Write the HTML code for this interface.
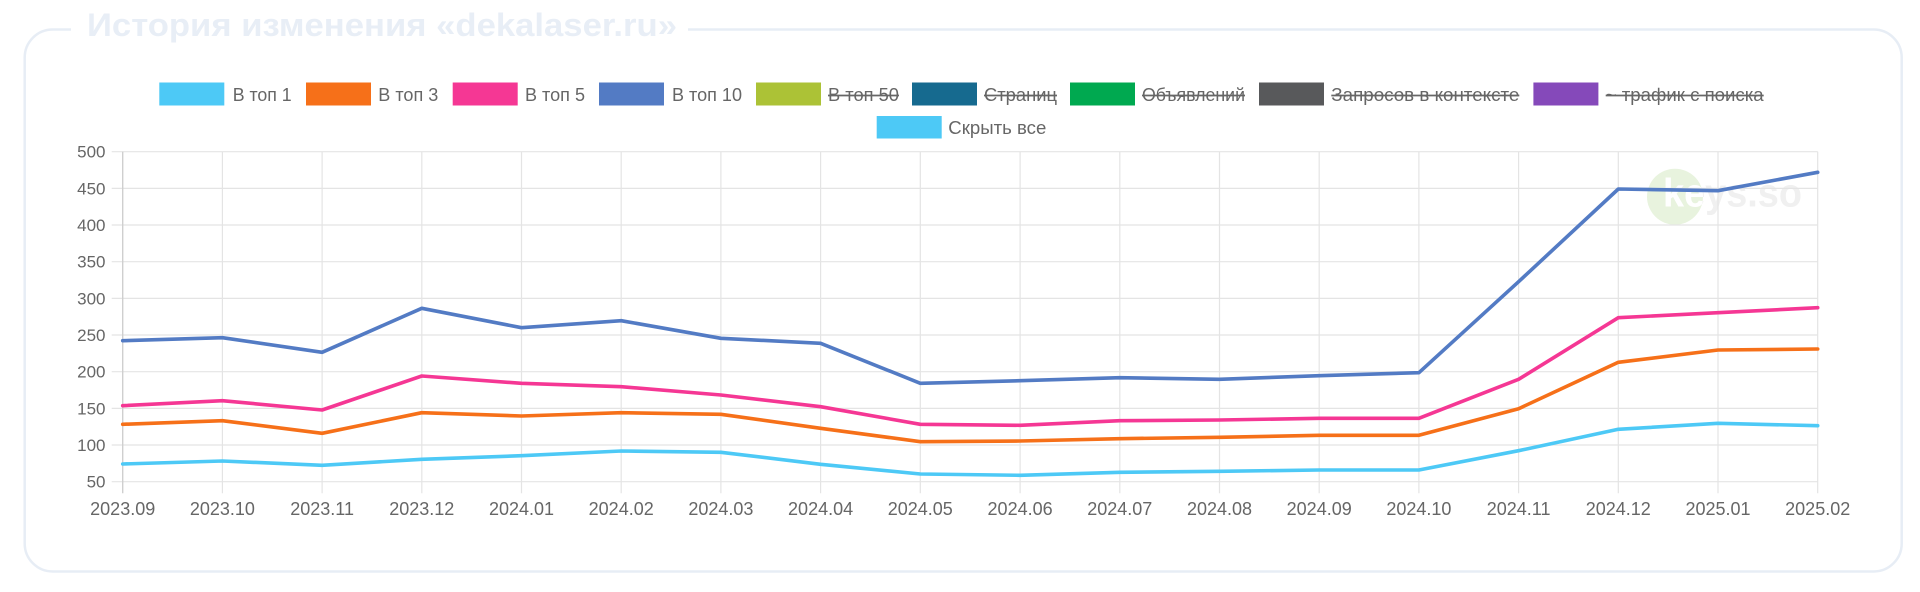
<!DOCTYPE html>
<html><head><meta charset="utf-8"><style>html,body{margin:0;padding:0;background:#fff;width:1920px;height:592px;overflow:hidden}svg{display:block}</style></head>
<body>
<svg xmlns="http://www.w3.org/2000/svg" width="1920" height="592" viewBox="0 0 1920 592" font-family="'Liberation Sans', Arial, sans-serif">
<defs><clipPath id="cc"><circle cx="1675" cy="196.7" r="28"/></clipPath></defs>
<rect x="0" y="0" width="1920" height="592" fill="#fff"/>
<!-- card -->
<rect x="24.7" y="29.5" width="1877" height="542" rx="28" ry="28" fill="#fff" stroke="#e7edf5" stroke-width="2.5"/>
<rect x="71" y="24" width="617" height="12" fill="#fff"/>
<text x="87" y="36" font-size="32" font-weight="bold" fill="#e8eef6" textLength="590" lengthAdjust="spacingAndGlyphs">История изменения «dekalaser.ru»</text>

<!-- legend -->
<g font-size="18" fill="#666">
<rect x="159.3" y="82.5" width="65" height="23" fill="#4dc9f6"/><text x="232.7" y="101" textLength="59" lengthAdjust="spacingAndGlyphs">В топ 1</text>
<rect x="306" y="82.5" width="65" height="23" fill="#f67019"/><text x="378.3" y="101" textLength="60" lengthAdjust="spacingAndGlyphs">В топ 3</text>
<rect x="452.7" y="82.5" width="65" height="23" fill="#f53794"/><text x="525" y="101" textLength="60" lengthAdjust="spacingAndGlyphs">В топ 5</text>
<rect x="599" y="82.5" width="65" height="23" fill="#537bc4"/><text x="672" y="101" textLength="70" lengthAdjust="spacingAndGlyphs">В топ 10</text>
<rect x="756" y="82.5" width="65" height="23" fill="#acc236"/><text x="828" y="101" textLength="71" lengthAdjust="spacingAndGlyphs">В топ 50</text>
<rect x="912" y="82.5" width="65" height="23" fill="#166a8f"/><text x="984" y="101" textLength="73" lengthAdjust="spacingAndGlyphs">Страниц</text>
<rect x="1070" y="82.5" width="65" height="23" fill="#00a950"/><text x="1142" y="101" textLength="103" lengthAdjust="spacingAndGlyphs">Объявлений</text>
<rect x="1259" y="82.5" width="65" height="23" fill="#58595b"/><text x="1331.3" y="101" textLength="188" lengthAdjust="spacingAndGlyphs">Запросов в контексте</text>
<rect x="1533.4" y="82.5" width="65" height="23" fill="#8549ba"/><text x="1605.7" y="101" textLength="158" lengthAdjust="spacingAndGlyphs">~ трафик с поиска</text>
<rect x="876.7" y="116" width="65" height="22.5" fill="#4dc9f6"/><text x="948.3" y="134" textLength="98" lengthAdjust="spacingAndGlyphs">Скрыть все</text>
</g>
<g stroke="#666" stroke-width="1.8">
<line x1="828" y1="95.5" x2="899" y2="95.5"/>
<line x1="984" y1="95.5" x2="1057" y2="95.5"/>
<line x1="1142" y1="95.5" x2="1245" y2="95.5"/>
<line x1="1331.3" y1="95.5" x2="1519.3" y2="95.5"/>
<line x1="1605.7" y1="95.5" x2="1763.7" y2="95.5"/>
</g>

<!-- watermark -->
<circle cx="1675" cy="196.7" r="28" fill="#e8f3de"/>
<text x="1663" y="206.7" font-size="40" font-weight="bold" fill="#f0f0f0" textLength="139" lengthAdjust="spacingAndGlyphs">keys.so</text>
<g clip-path="url(#cc)"><text x="1663" y="206.7" font-size="40" font-weight="bold" fill="#ffffff" textLength="139" lengthAdjust="spacingAndGlyphs">keys.so</text></g>

<!-- grid -->
<g stroke="#e4e4e4" stroke-width="1.2">
<line x1="111.7" y1="151.7" x2="1817.7" y2="151.7"/>
<line x1="111.7" y1="188.4" x2="1817.7" y2="188.4"/>
<line x1="111.7" y1="225" x2="1817.7" y2="225"/>
<line x1="111.7" y1="261.7" x2="1817.7" y2="261.7"/>
<line x1="111.7" y1="298.4" x2="1817.7" y2="298.4"/>
<line x1="111.7" y1="335" x2="1817.7" y2="335"/>
<line x1="111.7" y1="371.7" x2="1817.7" y2="371.7"/>
<line x1="111.7" y1="408.4" x2="1817.7" y2="408.4"/>
<line x1="111.7" y1="445" x2="1817.7" y2="445"/>
<line x1="111.7" y1="481.7" x2="1817.7" y2="481.7"/>
<line x1="222.4" y1="151.7" x2="222.4" y2="493.3"/>
<line x1="322.1" y1="151.7" x2="322.1" y2="493.3"/>
<line x1="421.8" y1="151.7" x2="421.8" y2="493.3"/>
<line x1="521.5" y1="151.7" x2="521.5" y2="493.3"/>
<line x1="621.2" y1="151.7" x2="621.2" y2="493.3"/>
<line x1="720.9" y1="151.7" x2="720.9" y2="493.3"/>
<line x1="820.6" y1="151.7" x2="820.6" y2="493.3"/>
<line x1="920.3" y1="151.7" x2="920.3" y2="493.3"/>
<line x1="1020.1" y1="151.7" x2="1020.1" y2="493.3"/>
<line x1="1119.8" y1="151.7" x2="1119.8" y2="493.3"/>
<line x1="1219.5" y1="151.7" x2="1219.5" y2="493.3"/>
<line x1="1319.2" y1="151.7" x2="1319.2" y2="493.3"/>
<line x1="1418.9" y1="151.7" x2="1418.9" y2="493.3"/>
<line x1="1518.6" y1="151.7" x2="1518.6" y2="493.3"/>
<line x1="1618.3" y1="151.7" x2="1618.3" y2="493.3"/>
<line x1="1718" y1="151.7" x2="1718" y2="493.3"/>
<line x1="1817.7" y1="151.7" x2="1817.7" y2="493.3"/>
</g>
<line x1="122.7" y1="151.7" x2="122.7" y2="493.3" stroke="#cfcfcf" stroke-width="1.4"/>

<!-- y labels -->
<g font-size="17" fill="#666" text-anchor="end">
<text x="105.5" y="157.7">500</text>
<text x="105.5" y="194.4">450</text>
<text x="105.5" y="231">400</text>
<text x="105.5" y="267.7">350</text>
<text x="105.5" y="304.4">300</text>
<text x="105.5" y="341">250</text>
<text x="105.5" y="377.7">200</text>
<text x="105.5" y="414.4">150</text>
<text x="105.5" y="451">100</text>
<text x="105.5" y="487.7">50</text>
</g>
<!-- x labels -->
<g font-size="18" fill="#666" text-anchor="middle">
<text x="122.7" y="515">2023.09</text>
<text x="222.4" y="515">2023.10</text>
<text x="322.1" y="515">2023.11</text>
<text x="421.8" y="515">2023.12</text>
<text x="521.5" y="515">2024.01</text>
<text x="621.2" y="515">2024.02</text>
<text x="720.9" y="515">2024.03</text>
<text x="820.6" y="515">2024.04</text>
<text x="920.3" y="515">2024.05</text>
<text x="1020.1" y="515">2024.06</text>
<text x="1119.8" y="515">2024.07</text>
<text x="1219.5" y="515">2024.08</text>
<text x="1319.2" y="515">2024.09</text>
<text x="1418.9" y="515">2024.10</text>
<text x="1518.6" y="515">2024.11</text>
<text x="1618.3" y="515">2024.12</text>
<text x="1718" y="515">2025.01</text>
<text x="1817.7" y="515">2025.02</text>
</g>

<!-- series -->
<g fill="none" stroke-width="3.6" stroke-linejoin="round" stroke-linecap="round">
<polyline stroke="#537bc4" points="122.7,340.7 222.4,337.7 322.1,352.3 421.8,308.3 521.5,327.7 621.2,320.7 720.9,338.3 820.6,343.3 920.3,383.3 1020.1,380.7 1119.8,377.7 1219.5,379.3 1319.2,375.7 1418.9,372.7 1518.6,281.7 1618.3,189 1718,190.7 1817.7,172.3"/>
<polyline stroke="#f53794" points="122.7,405.7 222.4,400.7 322.1,410 421.8,376 521.5,383.3 621.2,386.7 720.9,395 820.6,406.7 920.3,424.3 1020.1,425.3 1119.8,420.7 1219.5,420 1319.2,418.3 1418.9,418.3 1518.6,379.3 1618.3,317.7 1718,312.7 1817.7,307.7"/>
<polyline stroke="#f67019" points="122.7,424.3 222.4,420.7 322.1,433.3 421.8,412.7 521.5,416 621.2,412.7 720.9,414.3 820.6,428.3 920.3,441.7 1020.1,441 1119.8,438.7 1219.5,437.3 1319.2,435.3 1418.9,435.3 1518.6,408.7 1618.3,362.3 1718,350 1817.7,349"/>
<polyline stroke="#4dc9f6" points="122.7,464 222.4,461 322.1,465.3 421.8,459.3 521.5,455.7 621.2,451 720.9,452.3 820.6,464.3 920.3,474 1020.1,475.3 1119.8,472.3 1219.5,471.3 1319.2,470 1418.9,470 1518.6,450.7 1618.3,429.3 1718,423.3 1817.7,425.7"/>
</g>
</svg>
</body></html>
